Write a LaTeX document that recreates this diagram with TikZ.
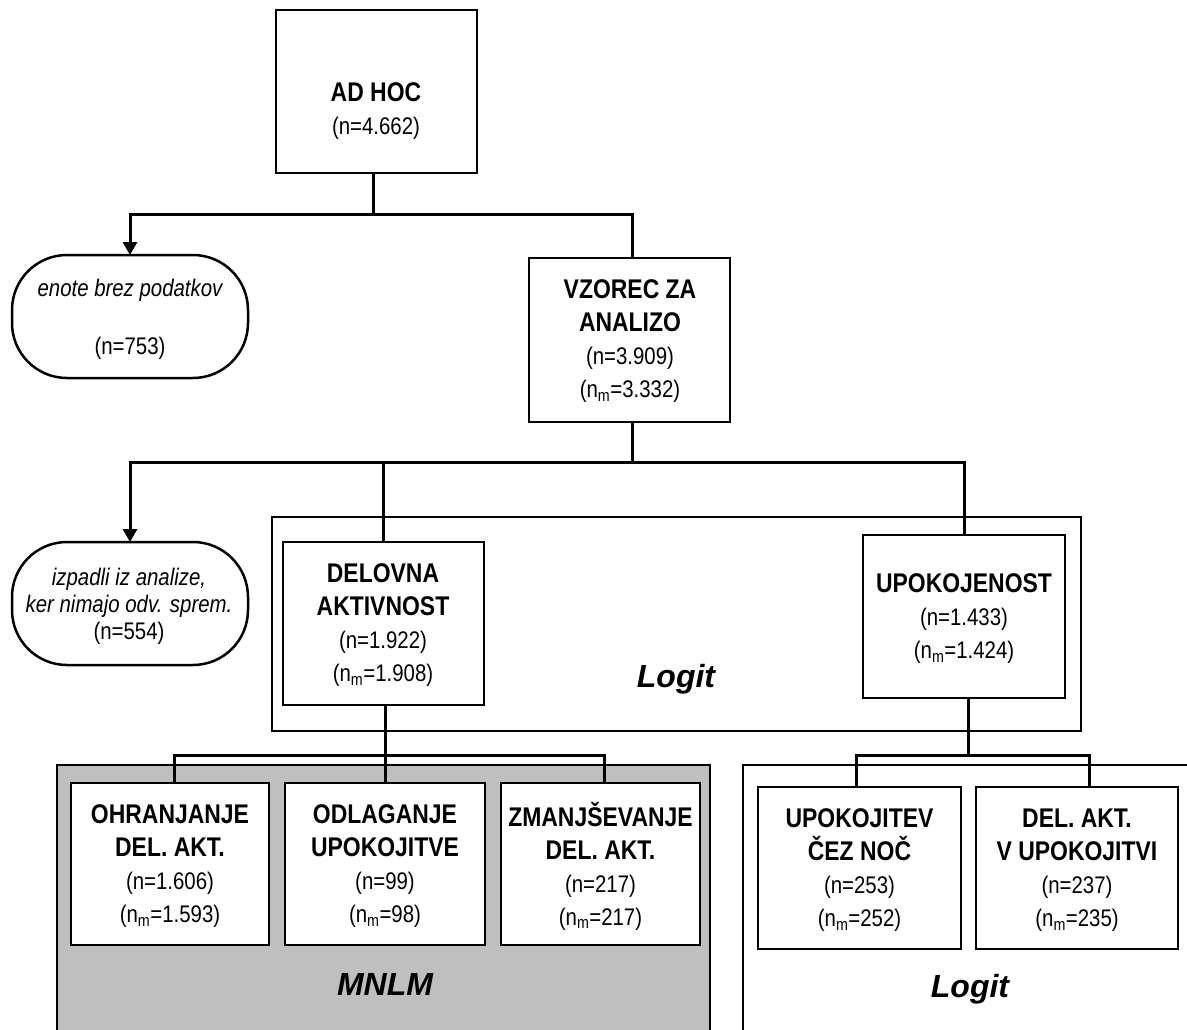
\documentclass[tikz,border=0pt]{standalone}
\usepackage{fontspec}
\setmainfont{Liberation Sans}[FakeStretch=0.85]
\newfontfamily\lblfont{Liberation Sans}
\usetikzlibrary{arrows.meta}
\newcommand\hd[1]{{\fontsize{27}{33}\selectfont\bfseries #1}}
\newcommand\nmm{n\textsubscript{m}}
\tikzset{
  box/.style={draw, line width=2.5pt, fill=white, inner sep=0pt, outer sep=0pt},
  pill/.style={box, rounded corners=55pt},
  txt/.style={align=center, inner sep=0pt, font=\fontsize{24}{33}\selectfont},
  conn/.style={line width=3pt, line join=miter},
  arr/.style={conn, -{Triangle[length=13pt,width=14pt]}},
  frame/.style={line width=2pt},
  model/.style={inner sep=0pt, font=\lblfont\fontsize{32}{36}\selectfont\bfseries\itshape}
}
\begin{document}
\begin{tikzpicture}[x=1pt,y=-1pt]
\useasboundingbox (0,0) rectangle (1187,1030);
% model frames
\fill[black!25] (57,765) rectangle (710,1030);
\draw[frame] (57,1030) -- (57,765) -- (710,765) -- (710,1030);
\draw[frame] (743,1030) -- (743,765) -- (1187,765);
\draw[frame] (272,517) rectangle (1081,731);
% boxes
\node[box, minimum width=201pt, minimum height=163pt] (adhoc) at (376.5,91.5) {};
\node[pill, minimum width=236pt, minimum height=123pt] (enote) at (130,316.5) {};
\node[box, minimum width=201pt, minimum height=164pt] (vzorec) at (629.5,340) {};
\node[pill, minimum width=236pt, minimum height=123pt] (izpadli) at (130,603.5) {};
\node[box, minimum width=201pt, minimum height=163pt] (delovna) at (383.5,623.5) {};
\node[box, minimum width=202pt, minimum height=163pt] (upok) at (964,616.5) {};
\node[box, minimum width=198pt, minimum height=162pt] (b1) at (170,864) {};
\node[box, minimum width=200pt, minimum height=162pt] (b2) at (385,864) {};
\node[box, minimum width=199pt, minimum height=162pt] (b3) at (600.5,864) {};
\node[box, minimum width=203pt, minimum height=162pt] (b4) at (859.5,868) {};
\node[box, minimum width=202pt, minimum height=162pt] (b5) at (1077,868) {};
% connectors
\coordinate (j1) at (373,215);
\coordinate (j2) at (632,462);
\coordinate (j3) at (385,755);
\coordinate (j4) at (968,755);
\draw[conn] (adhoc.south -| j1) -- (j1);
\draw[arr] (j1) -| (enote.north);
\draw[conn] (j1) -| ([xshift=3pt]vzorec.north);
\draw[conn] (vzorec.south -| j2) -- (j2);
\draw[arr] (j2) -| (izpadli.north);
\draw[conn] (j2) -| (delovna.north);
\draw[conn] (j2) -| (upok.north);
\draw[conn] (delovna.south -| j3) -- (j3);
\draw[conn] (j3) -| ([xshift=4pt]b1.north);
\draw[conn] (j3) -| (b2.north);
\draw[conn] (j3) -| ([xshift=4pt]b3.north);
\draw[conn] (upok.south -| j4) -- (j4);
\draw[conn] (j4) -| ([xshift=-3pt]b4.north);
\draw[conn] (j4) -| ([xshift=12pt]b5.north);
% texts
\node[txt] (adhoc-t) at (376,111) {\hd{AD HOC}\\(n=4.662)};
\node[txt] (enote-t) at (130,319) {\itshape enote brez podatkov\\[25pt](n=753)};
\node[txt] (vzorec-t) at (630,341) {\hd{VZOREC ZA}\\\hd{ANALIZO}\\(n=3.909)\\(\nmm=3.332)};
\node[txt, font=\fontsize{24}{27}\selectfont] (izpadli-t) at (129,606) {\itshape izpadli iz analize,\\\itshape ker nimajo odv. sprem.\\(n=554)};
\node[txt] (delovna-t) at (383,625) {\hd{DELOVNA}\\\hd{AKTIVNOST}\\(n=1.922)\\(\nmm=1.908)};
\node[txt] (upok-t) at (964,619) {\hd{UPOKOJENOST}\\(n=1.433)\\(\nmm=1.424)};
\node[txt] (b1-t) at (170,866) {\hd{OHRANJANJE}\\\hd{DEL. AKT.}\\(n=1.606)\\(\nmm=1.593)};
\node[txt] (b2-t) at (385,866) {\hd{ODLAGANJE}\\\hd{UPOKOJITVE}\\(n=99)\\(\nmm=98)};
\node[txt] (b3-t) at (600.5,866) {\hd{ZMANJŠEVANJE}\\\hd{DEL. AKT.}\\(n=217)\\(\nmm=217)};
\node[txt] (b4-t) at (859.5,870) {\hd{UPOKOJITEV}\\\hd{ČEZ NOČ}\\(n=253)\\(\nmm=252)};
\node[txt] (b5-t) at (1077,870) {\hd{DEL. AKT.}\\\hd{V UPOKOJITVI}\\(n=237)\\(\nmm=235)};
\node[model, anchor=base] (logit1) at (676,687) {Logit};
\node[model, anchor=base] (mnlm) at (385,995) {MNLM};
\node[model, anchor=base] (logit2) at (970,997) {Logit};
\end{tikzpicture}
\end{document}
